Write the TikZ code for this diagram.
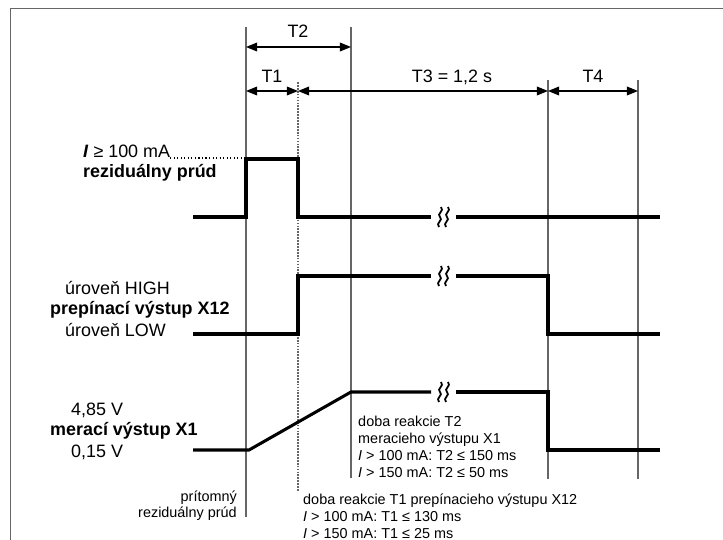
\documentclass[tikz,border=0pt]{standalone}
\usepackage{fontspec}
\setmainfont{Liberation Sans}
\usetikzlibrary{arrows.meta,positioning,calc}

\begin{document}
\begin{tikzpicture}[x=0.03cm,y=-0.03cm,
  sig/.style={line width=2.6pt,line join=miter},
  vline/.style={draw=black!60,line width=0.9pt},
  dim/.style={line width=0.9pt,{Triangle[length=9.5pt,width=7.5pt]}-{Triangle[length=9.5pt,width=7.5pt]}},
  big/.style={font=\fontsize{15.3}{17}\selectfont,inner sep=0pt},
  small/.style={font=\fontsize{12.3}{14.5}\selectfont,inner sep=0pt},
  brk/.style={line width=1.5pt}]
 \useasboundingbox (0,0) rectangle (723,540);
 \draw[draw=black!60,line width=0.8pt] (10,540) -- (10,8) -- (723,8);

 % time marks
 \draw[vline] (246,27) -- (246,517);
 \draw[vline,dash pattern=on 1.5pt off 1pt] (298,82) -- (298,492);
 \draw[vline] (351,27) -- (351,478);
 \draw[vline] (548,80) -- (548,479);
 \draw[vline] (638,80) -- (638,479);

 \coordinate (d2a) at (246,47); \coordinate (d2b) at (351,47);
 \coordinate (d1a) at (246,91); \coordinate (d1b) at (298,91);
 \coordinate (d3b) at (548,91); \coordinate (d4b) at (638,91);
 \draw[dim] (d2a) -- (d2b);
 \draw[dim] (d1a) -- (d1b);
 \draw[dim] (d1b) -- (d3b);
 \draw[dim] (d3b) -- (d4b);
 \node[big,anchor=base] (lt2) at (298,38) {T2};
 \node[big,anchor=base] (lt1) at (272,83) {T1};
 \node[big,anchor=base] (lt3) at (452,83) {T3 = 1,2 s};
 \node[big,anchor=base] (lt4) at (593,83) {T4};

 % signals
 \draw[sig] (193,217) -- (246,217) -- (246,159) -- (298,159) -- (298,217) -- (431,217);
 \draw[sig] (456,217) -- (660,217);
 \draw[sig] (193,334) -- (298,334) -- (298,276) -- (431,276);
 \draw[sig] (456,276) -- (548,276) -- (548,334) -- (660,334);
 \draw[sig] (193,450) -- (249,450) -- (351,392) -- (431,392);
 \draw[sig] (456,392) -- (548,392) -- (548,450) -- (660,450);
 \foreach \y in {217,276,392}
   \foreach \x in {440,447}
     \draw[brk] (\x+1,\y-10) .. controls (\x+5,\y-6) and (\x-4,\y-3) .. (\x,\y)
                .. controls (\x+4,\y+3) and (\x-5,\y+6) .. (\x-1,\y+10);

 % left labels
 \node[big,anchor=base west] (ia) at (83,158) {\textbf{\textit{I}} ≥ 100 mA};
 \coordinate (hi1) at (245,158);
 \draw[line width=1.1pt,dash pattern=on 0.9pt off 2.1pt] (ia.base east) -- (hi1);
 \node[big,anchor=base west,font=\fontsize{15.3}{17}\selectfont\bfseries] (rp) at (83,178) {reziduálny prúd};
 \node[big,anchor=base west] (hi) at (65,295) {úroveň HIGH};
 \node[big,anchor=base west,font=\fontsize{15.3}{17}\selectfont\bfseries] (x12) at (50,315) {prepínací výstup X12};
 \node[big,anchor=base west] (lo) at (65,337) {úroveň LOW};
 \node[big,anchor=base west] (v485) at (71,415) {4,85 V};
 \node[big,anchor=base west,font=\fontsize{15.3}{17}\selectfont\bfseries] (x1) at (50,435) {merací výstup X1};
 \node[big,anchor=base west] (v015) at (71,457) {0,15 V};

 % notes
 \node[small,anchor=base east] (pr1) at (237,501) {prítomný};
 \node[small,anchor=base east] (pr2) at (237,517) {reziduálny prúd};
 \foreach \t [count=\i] in {doba reakcie T2, meracieho výstupu X1,
     {\textit{I} > 100 mA: T2 ≤ 150 ms}, {\textit{I} > 150 mA: T2 ≤ 50 ms}}
   \node[small,anchor=base west] (rt2-\i) at (358,409+17*\i) {\t};
 \foreach \t [count=\i] in {doba reakcie T1 prepínacieho výstupu X12,
     {\textit{I} > 100 mA: T1 ≤ 130 ms}, {\textit{I} > 150 mA: T1 ≤ 25 ms}}
   \node[small,anchor=base west] (rt1-\i) at (303,487+17*\i) {\t};
\end{tikzpicture}
\end{document}
